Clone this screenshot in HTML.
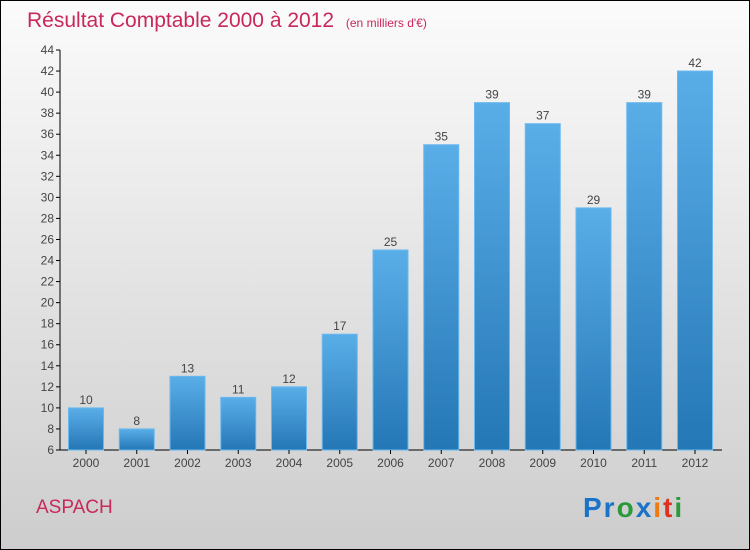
<!DOCTYPE html>
<html><head><meta charset="utf-8"><style>
body{margin:0}
#c{width:748px;height:548px;border:1px solid #000;position:relative;background:linear-gradient(#fbfbfb,#cdcdcd);font-family:"Liberation Sans",sans-serif;overflow:hidden}
</style></head><body>
<div id="c">
<svg id="s" width="748" height="548" style="position:absolute;left:0;top:0">
<defs><linearGradient id="g" x1="0" y1="0" x2="0" y2="1"><stop offset="0" stop-color="#5aaee8"/><stop offset="1" stop-color="#2477b5"/></linearGradient></defs>
<text x="26" y="26" font-size="21" fill="#c8285a">Résultat Comptable 2000 à 2012 <tspan font-size="12" dx="6">(en milliers d'€)</tspan></text>
<text x="35" y="512" font-size="19" fill="#c8285a">ASPACH</text>
<text x="582" y="516" font-size="28" font-weight="bold" letter-spacing="2"><tspan fill="#1a73c8">Pr</tspan><tspan fill="#2a9a3a">o</tspan><tspan fill="#1a73c8">x</tspan><tspan fill="#f07a10">i</tspan><tspan fill="#e03020">t</tspan><tspan fill="#2a9a3a">i</tspan></text>
</svg></div>
<script>
const years=["2000","2001","2002","2003","2004","2005","2006","2007","2008","2009","2010","2011","2012"];
const values=[10,8,13,11,12,17,25,35,39,37,29,39,42];
const yTicks=[6,8,10,12,14,16,18,20,22,24,26,28,30,32,34,36,38,40,42,44];
const s=document.getElementById('s'),NS='http://www.w3.org/2000/svg';
const y0=449,y1=49,vmin=6,vmax=44;
const Y=v=>y0-(v-vmin)/(vmax-vmin)*(y0-y1);
const X=i=>85+i*50.75;
function mk(t,a){const e=document.createElementNS(NS,t);for(const k in a)e.setAttribute(k,a[k]);s.appendChild(e);return e;}
let ax=mk('line',{x1:59,y1:y1,x2:59,y2:y0,stroke:'#000'});


let xx=mk('line',{x1:59,y1:y0,x2:721,y2:y0,stroke:'#000'});


yTicks.forEach(v=>{
 let t=mk('line',{x1:55,y1:Y(v),x2:59,y2:Y(v),stroke:'#000'});
 
 
 let l=mk('text',{x:53,y:Y(v)+4,'font-size':12,'text-anchor':'end',fill:'#444'});l.textContent=v;
 
 
});
years.forEach((yr,i)=>{
 const v=values[i],x=X(i);
 let b=mk('rect',{x:x-17.5,y:Y(v),width:35,height:y0-Y(v),fill:'url(#g)',stroke:'#6ab8ee','stroke-width':1});
 
 
 let t=mk('line',{x1:x,y1:y0,x2:x,y2:y0+4,stroke:'#000'});
 
 
 let l=mk('text',{x:x,y:466,'font-size':12,'text-anchor':'middle',fill:'#444'});l.textContent=yr;
 
 
 let vl=mk('text',{x:x,y:Y(v)-4,'font-size':12,'text-anchor':'middle',fill:'#444'});vl.textContent=v;
 
 
});
</script>
</body></html>
